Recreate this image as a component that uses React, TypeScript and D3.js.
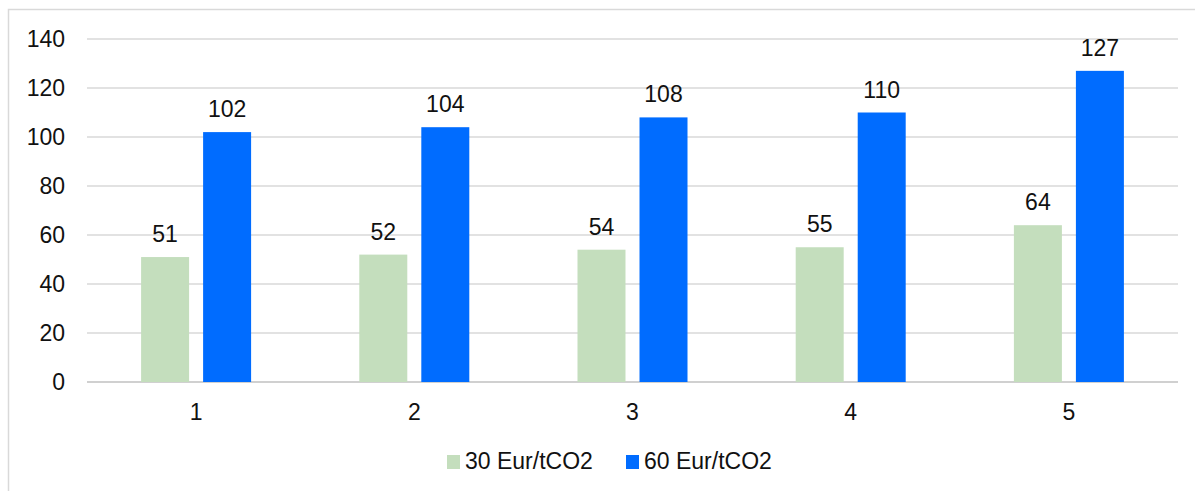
import * as d3 from "d3";

const categories = ["1", "2", "3", "4", "5"];
const seriesNames = ["30 Eur/tCO2", "60 Eur/tCO2"];
const low = [51, 52, 54, 55, 64];
const high = [102, 104, 108, 110, 127];
const yTicks = [0, 20, 40, 60, 80, 100, 120, 140];

const colors = ["#c4debd", "#006cff"];
const W = 1195;
const H = 491;
const FONT = "'Liberation Sans', Arial, sans-serif";
const FS = 23;

export default function App() {
  const margin = { top: 39, right: 17, bottom: 109, left: 87 };
  const x = d3
    .scaleBand<string>()
    .domain(categories)
    .range([margin.left, W - margin.right]);
  const bw = x.bandwidth();
  const inner = d3
    .scaleBand<string>()
    .domain(seriesNames)
    .range([bw / 2 - 55, bw / 2 + 55])
    .paddingInner(0.226);
  const y = d3.scaleLinear().domain([0, 140]).range([H - margin.bottom, margin.top]);

  const series = [low, high];

  return (
    <svg
      width={W}
      height={H}
      style={{ position: "absolute", left: 0, top: 0, background: "#fff" }}
      fontFamily={FONT}
    >
      {/* outer chart frame, runs off the right and bottom edges */}
      <rect x={8.5} y={9.5} width={W + 20} height={H + 20} fill="#fff" stroke="#d9d9d9" strokeWidth={1.5} />

      {/* gridlines and y labels */}
      {yTicks.map((t) => (
        <g key={t}>
          <line
            x1={margin.left}
            x2={W - margin.right}
            y1={y(t)}
            y2={y(t)}
            stroke={t === 0 ? "#d0d0d0" : "#d9d9d9"}
            strokeWidth={t === 0 ? 2 : 1.5}
          />
          <text x={65} y={y(t)} dy="0.35em" textAnchor="end" fontSize={FS} fill="#111">
            {t}
          </text>
        </g>
      ))}

      {/* bars */}
      {categories.map((c, i) => (
        <g key={c} transform={`translate(${x(c)},0)`}>
          {series.map((vals, s) => {
            const bx = inner(seriesNames[s])!;
            const v = vals[i];
            return (
              <g key={s}>
                <rect
                  x={bx}
                  y={y(v)}
                  width={inner.bandwidth()}
                  height={y(0) - y(v)}
                  fill={colors[s]}
                />
                <text
                  x={bx + inner.bandwidth() / 2}
                  y={y(v) - 15}
                  textAnchor="middle"
                  fontSize={FS}
                  fill="#111"
                >
                  {v}
                </text>
              </g>
            );
          })}
          <text x={bw / 2} y={420} textAnchor="middle" fontSize={FS} fill="#111">
            {c}
          </text>
        </g>
      ))}

      {/* legend */}
      {seriesNames.map((name, s) => {
        const lx = 447 + s * 179;
        return (
          <g key={name} transform={`translate(${lx},0)`}>
            <rect x={0} y={455} width={13} height={14} fill={colors[s]} />
            <text x={18} y={469} fontSize={FS} fill="#111">
              {name}
            </text>
          </g>
        );
      })}
    </svg>
  );
}
